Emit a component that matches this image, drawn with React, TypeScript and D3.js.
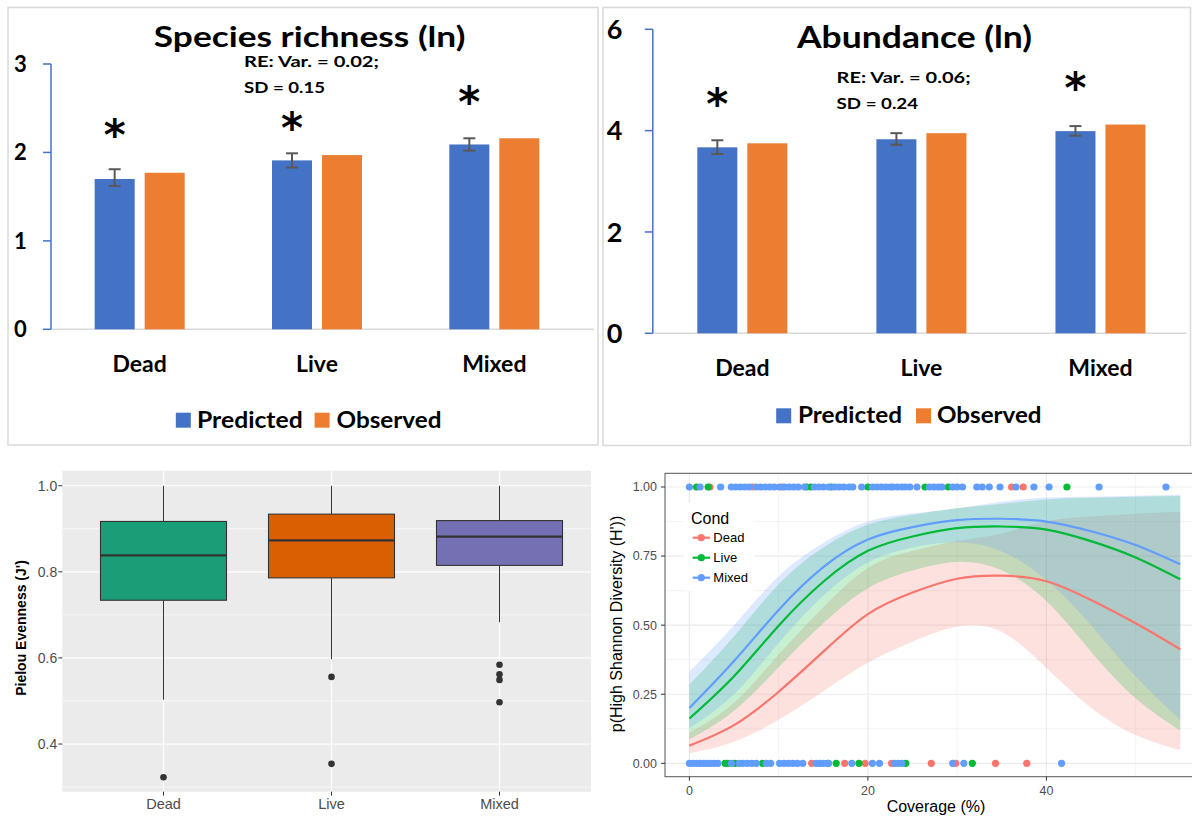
import React from "react";
import * as d3 from "d3";

// ---------- data ----------
const categories = ["Dead", "Live", "Mixed"];
const seriesNames = ["Predicted", "Observed"];

const richnessPredicted = [1.70, 1.91, 2.09];
const richnessObserved = [1.77, 1.97, 2.16];
const richnessErrLow = [1.62, 1.83, 2.02];
const richnessErrHigh = [1.81, 1.99, 2.16];
const richnessStar = [2.30, 2.38, 2.67];
const richnessTicks = [0, 1, 2, 3];

const abundancePredicted = [3.67, 3.83, 3.99];
const abundanceObserved = [3.75, 3.95, 4.12];
const abundanceErrLow = [3.54, 3.72, 3.90];
const abundanceErrHigh = [3.81, 3.95, 4.09];
const abundanceStar: (number | null)[] = [4.70, null, 5.02];
const abundanceTicks = [0, 2, 4, 6];

// boxplot (Pielou evenness)
const boxLower = [0.503, 0.597, 0.683];
const boxQ1 = [0.734, 0.786, 0.815];
const boxMedian = [0.838, 0.873, 0.882];
const boxQ3 = [0.917, 0.934, 0.919];
const boxUpper = [1.0, 1.0, 1.0];
const boxOutliers = [[0.323], [0.556, 0.354], [0.584, 0.562, 0.549, 0.497]];
const evenTicks = [0.4, 0.6, 0.8, 1.0];
const evenMinor = [0.3, 0.5, 0.7, 0.9];

// logistic fits (Coverage %)
const coverageX = [0, 5, 10, 15, 20, 25, 30, 35, 40, 45, 50, 55];
const deadFit = [0.064, 0.138, 0.259, 0.404, 0.540, 0.618, 0.668, 0.679, 0.659, 0.591, 0.507, 0.413];
const deadLow = [0.036, 0.078, 0.158, 0.261, 0.364, 0.44, 0.495, 0.475, 0.345, 0.201, 0.102, 0.047];
const deadHigh = [0.111, 0.219, 0.394, 0.565, 0.707, 0.769, 0.805, 0.832, 0.876, 0.893, 0.903, 0.910];
const liveFit = [0.162, 0.315, 0.498, 0.657, 0.769, 0.821, 0.851, 0.857, 0.846, 0.804, 0.745, 0.666];
const liveLow = [0.086, 0.19, 0.348, 0.507, 0.634, 0.698, 0.729, 0.698, 0.587, 0.404, 0.235, 0.118];
const liveHigh = [0.285, 0.46, 0.648, 0.781, 0.864, 0.90, 0.923, 0.939, 0.955, 0.961, 0.965, 0.967];
const mixedFit = [0.20, 0.37, 0.555, 0.71, 0.81, 0.855, 0.88, 0.885, 0.875, 0.84, 0.79, 0.72];
const mixedLow = [0.127, 0.25, 0.435, 0.606, 0.727, 0.781, 0.80, 0.767, 0.663, 0.50, 0.314, 0.157];
const mixedHigh = [0.332, 0.50, 0.677, 0.797, 0.875, 0.904, 0.923, 0.947, 0.962, 0.965, 0.968, 0.972];

// observed points (coverage) at p = 1 and p = 0
const topDead = [2.3, 7.1, 10.4, 36.1, 37.4];
const topLive = [0.8, 2.1, 13.1, 13.6, 15.9, 20.0, 26.4, 29.0, 42.3];
const topMixed = [0, 1.2, 3.5, 4.7, 5.2, 5.7, 6.2, 6.7, 7.5, 8.0, 8.5, 9.0, 9.5, 10.1, 10.7, 11.2, 11.7, 12.2, 12.9, 14.0, 14.5, 15.0, 15.6, 16.3, 16.8, 17.3, 17.9, 18.3, 19.3, 20.5, 21.0, 21.5, 22.0, 22.5, 22.8, 23.3, 23.8, 24.2, 24.7, 25.5, 26.9, 27.4, 27.9, 28.3, 29.5, 30.0, 30.6, 32.2, 32.8, 33.6, 34.8, 36.6, 38.6, 40.3, 45.9, 53.4];
const bottomDead = [13.7, 17.4, 19.7, 22.65, 27.1, 29.85, 34.3, 37.8];
const bottomLive = [4.0, 4.3, 5.1, 8.2, 15.5, 16.45, 19.0, 24.25, 31.7];
const bottomMixed = [0, 0.4, 0.8, 1.2, 1.6, 2.0, 2.4, 2.8, 3.2, 4.7, 5.6, 6.0, 6.5, 7.0, 7.5, 8.6, 9.1, 10.1, 10.6, 11.1, 11.6, 12.1, 12.7, 14.2, 14.6, 15.0, 15.6, 18.2, 20.5, 21.3, 23.0, 23.4, 23.8, 29.5, 30.75, 41.7];
const coverageTicks = [0, 20, 40];
const coverageMinor = [10, 30, 50];
const probTicks = [0, 0.25, 0.5, 0.75, 1.0];
const probMinor = [0.125, 0.375, 0.625, 0.875];

// ---------- styles ----------
const BLUE = "#4472C4";
const ORANGE = "#ED7D31";
const BOX_COLORS = ["#1B9E77", "#D95F02", "#7570B3"];
const COND_COLORS = ["#F8766D", "#00BA38", "#619CFF"];
const OFFICE = "Lato, 'Open Sans', sans-serif";
const RFONT = "'Liberation Sans', Arial, sans-serif";

type BarPanelProps = {
  x0: number; x1: number; yScale: d3.ScaleLinear<number, number>;
  pred: number[]; obs: number[]; lo: number[]; hi: number[];
  stars: (number | null)[]; ticks: number[];
  title: string; titleX: number; titleY: number; titleLen: number; titleSize: number;
  re1: string; re2: string; reX: number; reY1: number; reY2: number; reLen1: number; reLen2: number;
  tickSize: number; tickLabelX: number; catY: number; catSize: number;
  legY: number; legBlueX: number; legPredX: number; legPredLen: number; legOrangeX: number; legObsX: number; legObsLen: number;
  frame: [number, number, number, number];
};

function BarPanel(p: BarPanelProps) {
  const x = d3.scaleBand().domain(categories).range([p.x0, p.x1]);
  const cx = (c: string) => (x(c) as number) + x.bandwidth() / 2;
  const y = p.yScale;
  const base = y(0);
  const [fx, fy, fw, fh] = p.frame;
  const bw = 40;
  return (
    <g>
      <rect x={fx} y={fy} width={fw} height={fh} fill="#fff" stroke="#D9D9D9" strokeWidth={1.5} />
      <text x={p.titleX} y={p.titleY} textAnchor="middle" fontFamily={OFFICE} fontWeight="bold"
        fontSize={p.titleSize} textLength={p.titleLen} lengthAdjust="spacingAndGlyphs">{p.title}</text>
      <text x={p.reX} y={p.reY1} fontFamily={OFFICE} fontWeight="bold" fontSize={16}
        textLength={p.reLen1} lengthAdjust="spacingAndGlyphs">{p.re1}</text>
      <text x={p.reX} y={p.reY2} fontFamily={OFFICE} fontWeight="bold" fontSize={16}
        textLength={p.reLen2} lengthAdjust="spacingAndGlyphs">{p.re2}</text>
      {/* baseline */}
      <line x1={p.x0} x2={fx + fw - 4} y1={base} y2={base} stroke="#D9D9D9" strokeWidth={1.5} />
      {/* y axis */}
      <line x1={p.x0} x2={p.x0} y1={y(p.ticks[p.ticks.length - 1])} y2={base} stroke={BLUE} strokeWidth={1.5} />
      {p.ticks.map((t) => (
        <g key={t}>
          <line x1={p.x0 - 8} x2={p.x0} y1={y(t)} y2={y(t)} stroke={BLUE} strokeWidth={1.5} />
          <text x={p.tickLabelX} y={y(t)} dy="0.36em" textAnchor="middle" fontFamily={OFFICE}
            fontWeight="bold" fontSize={p.tickSize}>{t}</text>
        </g>
      ))}
      {categories.map((c, i) => (
        <g key={c}>
          <rect x={cx(c) - 45} y={y(p.pred[i])} width={bw} height={base - y(p.pred[i])} fill={BLUE} />
          <rect x={cx(c) + 5} y={y(p.obs[i])} width={bw} height={base - y(p.obs[i])} fill={ORANGE} />
          <g stroke="#595959" strokeWidth={2}>
            <line x1={cx(c) - 25} x2={cx(c) - 25} y1={y(p.lo[i])} y2={y(p.hi[i])} />
            <line x1={cx(c) - 31} x2={cx(c) - 19} y1={y(p.lo[i])} y2={y(p.lo[i])} />
            <line x1={cx(c) - 31} x2={cx(c) - 19} y1={y(p.hi[i])} y2={y(p.hi[i])} />
          </g>
          {p.stars[i] != null && (
            <text x={cx(c) - 25} y={y(p.stars[i] as number) + 24} textAnchor="middle"
              fontFamily="'DejaVu Sans', sans-serif" fontWeight="bold" fontSize={42}>*</text>
          )}
          <text x={cx(c)} y={p.catY} textAnchor="middle" fontFamily={OFFICE} fontWeight="bold"
            fontSize={p.catSize}>{c}</text>
        </g>
      ))}
      {/* legend */}
      <rect x={p.legBlueX} y={p.legY - 15} width={15} height={15} fill={BLUE} />
      <text x={p.legPredX} y={p.legY} fontFamily={OFFICE} fontWeight="bold" fontSize={22}
        textLength={p.legPredLen} lengthAdjust="spacingAndGlyphs">{seriesNames[0]}</text>
      <rect x={p.legOrangeX} y={p.legY - 15} width={15} height={15} fill={ORANGE} />
      <text x={p.legObsX} y={p.legY} fontFamily={OFFICE} fontWeight="bold" fontSize={22}
        textLength={p.legObsLen} lengthAdjust="spacingAndGlyphs">{seriesNames[1]}</text>
    </g>
  );
}

function BoxPanel() {
  const left = 62.3, right = 591, top = 470.7, bottom = 791.7;
  const y = d3.scaleLinear().domain([0.2893, 1.0349]).range([bottom, top]);
  const x = d3.scalePoint().domain(categories).range([163.5, 499.5]);
  const half = 63;
  return (
    <g>
      <rect x={left} y={top} width={right - left} height={bottom - top} fill="#EBEBEB" />
      {evenMinor.map((t) => (
        <line key={"m" + t} x1={left} x2={right} y1={y(t)} y2={y(t)} stroke="#fff" strokeWidth={0.6} />
      ))}
      {evenTicks.map((t) => (
        <line key={"M" + t} x1={left} x2={right} y1={y(t)} y2={y(t)} stroke="#fff" strokeWidth={1.2} />
      ))}
      {categories.map((c) => (
        <line key={"v" + c} x1={x(c)} x2={x(c)} y1={top} y2={bottom} stroke="#fff" strokeWidth={1.2} />
      ))}
      {categories.map((c, i) => {
        const cx = x(c) as number;
        return (
          <g key={c}>
            <line x1={cx} x2={cx} y1={y(boxUpper[i])} y2={y(boxQ3[i])} stroke="#333" strokeWidth={1} />
            <line x1={cx} x2={cx} y1={y(boxQ1[i])} y2={y(boxLower[i])} stroke="#333" strokeWidth={1} />
            <rect x={cx - half} y={y(boxQ3[i])} width={half * 2} height={y(boxQ1[i]) - y(boxQ3[i])}
              fill={BOX_COLORS[i]} stroke="#333" strokeWidth={1.1} />
            <line x1={cx - half} x2={cx + half} y1={y(boxMedian[i])} y2={y(boxMedian[i])} stroke="#333" strokeWidth={2.2} />
            {boxOutliers[i].map((o, j) => (
              <circle key={j} cx={cx} cy={y(o)} r={3.3} fill="#333" />
            ))}
          </g>
        );
      })}
      {evenTicks.map((t) => (
        <g key={"t" + t}>
          <line x1={left - 4} x2={left} y1={y(t)} y2={y(t)} stroke="#333" strokeWidth={1} />
          <text x={left - 5} y={y(t)} dy="0.35em" textAnchor="end" fontFamily={RFONT} fontSize={14} fill="#4D4D4D">
            {d3.format(".1f")(t)}
          </text>
        </g>
      ))}
      {categories.map((c) => (
        <g key={"x" + c}>
          <line x1={x(c)} x2={x(c)} y1={bottom} y2={bottom + 4} stroke="#333" strokeWidth={1} />
          <text x={x(c)} y={809} textAnchor="middle" fontFamily={RFONT} fontSize={14.5} fill="#4D4D4D">{c}</text>
        </g>
      ))}
      <text transform="translate(25.5,628) rotate(-90)" textAnchor="middle" fontFamily={RFONT}
        fontWeight="bold" fontSize={14}>Pielou Evenness (J')</text>
    </g>
  );
}

function CoveragePanel() {
  const left = 665, top = 473.3, bottom = 776.7, right = 1205;
  const x = d3.scaleLinear().domain([0, 40]).range([689.4, 1046.4]);
  const y = d3.scaleLinear().domain([0, 1]).range([763.3, 487]);
  const curve = d3.curveNatural;
  const groups = [
    { name: categories[0], fit: deadFit, lo: deadLow, hi: deadHigh, top: topDead, bot: bottomDead },
    { name: categories[1], fit: liveFit, lo: liveLow, hi: liveHigh, top: topLive, bot: bottomLive },
    { name: categories[2], fit: mixedFit, lo: mixedLow, hi: mixedHigh, top: topMixed, bot: bottomMixed },
  ];
  const area = (lo: number[], hi: number[]) =>
    d3.area<number>().x((d) => x(d)).y0((d, i) => y(lo[i])).y1((d, i) => y(hi[i])).curve(curve)(coverageX) as string;
  const line = (f: number[]) =>
    d3.line<number>().x((d) => x(d)).y((d, i) => y(f[i])).curve(curve)(coverageX) as string;
  return (
    <g>
      <rect x={left} y={top} width={right - left} height={bottom - top} fill="#fff" />
      {probMinor.map((t) => (
        <line key={"pm" + t} x1={left} x2={right} y1={y(t)} y2={y(t)} stroke="#EBEBEB" strokeWidth={0.6} />
      ))}
      {coverageMinor.map((t) => (
        <line key={"cm" + t} x1={x(t)} x2={x(t)} y1={top} y2={bottom} stroke="#EBEBEB" strokeWidth={0.6} />
      ))}
      {probTicks.map((t) => (
        <line key={"pM" + t} x1={left} x2={right} y1={y(t)} y2={y(t)} stroke="#EBEBEB" strokeWidth={1.2} />
      ))}
      {coverageTicks.map((t) => (
        <line key={"cM" + t} x1={x(t)} x2={x(t)} y1={top} y2={bottom} stroke="#EBEBEB" strokeWidth={1.2} />
      ))}
      {groups.map((g, i) => (
        <g key={"pt" + g.name}>
          {g.top.map((v, j) => (
            <circle key={"t" + j} cx={x(v)} cy={y(1)} r={3.6} fill={COND_COLORS[i]} />
          ))}
          {g.bot.map((v, j) => (
            <circle key={"b" + j} cx={x(v)} cy={y(0)} r={3.6} fill={COND_COLORS[i]} />
          ))}
        </g>
      ))}
      {groups.map((g, i) => (
        <path key={"rb" + g.name} d={area(g.lo, g.hi)} fill={COND_COLORS[i]} fillOpacity={0.22} />
      ))}
      {groups.map((g, i) => (
        <path key={"ln" + g.name} d={line(g.fit)} fill="none" stroke={COND_COLORS[i]} strokeWidth={2.2} />
      ))}
      <rect x={left} y={top} width={right - left} height={bottom - top} fill="none" stroke="#555" strokeWidth={1} />
      {probTicks.map((t) => (
        <g key={"yt" + t}>
          <line x1={left - 4} x2={left} y1={y(t)} y2={y(t)} stroke="#333" strokeWidth={1} />
          <text x={657} y={y(t)} dy="0.35em" textAnchor="end" fontFamily={RFONT} fontSize={12.5} fill="#4D4D4D">
            {d3.format(".2f")(t)}
          </text>
        </g>
      ))}
      {coverageTicks.map((t) => (
        <g key={"xt" + t}>
          <line x1={x(t)} x2={x(t)} y1={bottom} y2={bottom + 4} stroke="#333" strokeWidth={1} />
          <text x={x(t)} y={794.5} textAnchor="middle" fontFamily={RFONT} fontSize={12.5} fill="#4D4D4D">{t}</text>
        </g>
      ))}
      <text x={936} y={812} textAnchor="middle" fontFamily={RFONT} fontSize={16}>Coverage (%)</text>
      <text transform="translate(622,624) rotate(-90)" textAnchor="middle" fontFamily={RFONT} fontSize={16}>
        p(High Shannon Diversity (H'))
      </text>
      {/* legend */}
      <rect x={684} y={503} width={71} height={88} fill="#fff" />
      <text x={691} y={523.5} fontFamily={RFONT} fontSize={16}>Cond</text>
      {categories.map((c, i) => {
        const ly = 537.7 + i * 20;
        return (
          <g key={"lg" + c}>
            <line x1={692.7} x2={710} y1={ly} y2={ly} stroke={COND_COLORS[i]} strokeWidth={2.2} />
            <circle cx={701.3} cy={ly} r={3.6} fill={COND_COLORS[i]} />
            <text x={713.3} y={ly} dy="0.36em" fontFamily={RFONT} fontSize={13}>{c}</text>
          </g>
        );
      })}
    </g>
  );
}

export default function App() {
  const yR = d3.scaleLinear().domain([0, 3]).range([329.3, 64]);
  const yA = d3.scaleLinear().domain([0, 6]).range([333.3, 29.3]);
  return (
    <svg width={1192} height={819} viewBox="0 0 1192 819"
      style={{ position: "absolute", left: 0, top: 0, background: "#fff", display: "block" }}>
      <rect x={0} y={0} width={1192} height={819} fill="#fff" />
      <BarPanel x0={51} x1={583} yScale={yR} pred={richnessPredicted} obs={richnessObserved}
        lo={richnessErrLow} hi={richnessErrHigh} stars={richnessStar} ticks={richnessTicks}
        title="Species richness (ln)" titleX={309.6} titleY={46.7} titleLen={311.5} titleSize={29}
        re1="RE: Var. = 0.02;" re2="SD = 0.15" reX={244} reY1={66.7} reY2={92.7} reLen1={135} reLen2={81}
        tickSize={22} tickLabelX={20.4} catY={371.5} catSize={23}
        legY={427.7} legBlueX={175.8} legPredX={197} legPredLen={105.7} legOrangeX={314.6} legObsX={336.5} legObsLen={105}
        frame={[8, 7.5, 590, 437.5]} />
      <BarPanel x0={652.8} x1={1190} yScale={yA} pred={abundancePredicted} obs={abundanceObserved}
        lo={abundanceErrLow} hi={abundanceErrHigh} stars={abundanceStar} ticks={abundanceTicks}
        title="Abundance (ln)" titleX={914.5} titleY={47.7} titleLen={235} titleSize={30}
        re1="RE: Var. = 0.06;" re2="SD = 0.24" reX={836.6} reY1={83.3} reY2={109.3} reLen1={134} reLen2={81.5}
        tickSize={27} tickLabelX={614.7} catY={376} catSize={23}
        legY={423.3} legBlueX={776.2} legPredX={798} legPredLen={104} legOrangeX={916} legObsX={937} legObsLen={104.5}
        frame={[603, 7.5, 587.5, 438]} />
      <BoxPanel />
      <CoveragePanel />
    </svg>
  );
}
